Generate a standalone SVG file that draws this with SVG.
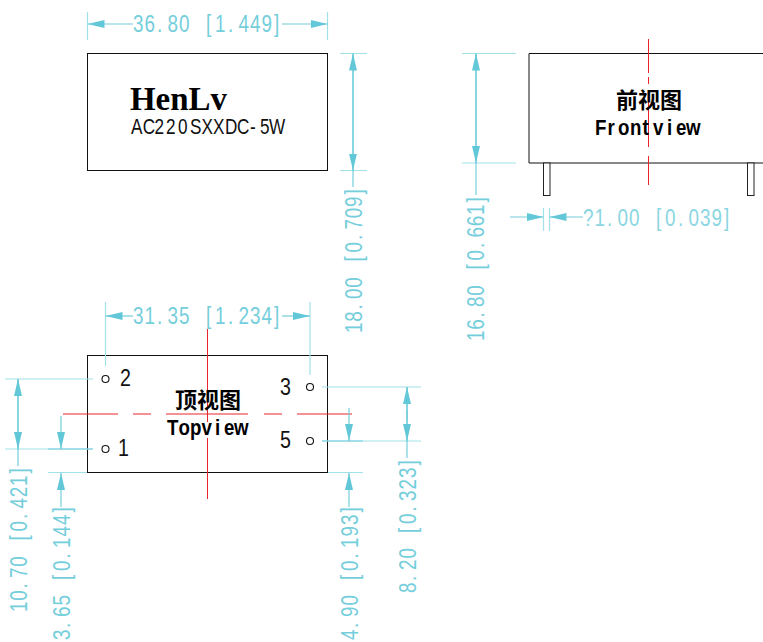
<svg xmlns="http://www.w3.org/2000/svg" width="763" height="642" viewBox="0 0 763 642">
<style>
.body{fill:#fff;stroke:#111;stroke-width:1}
.ext{stroke:#a3e1e9;stroke-width:1.2;fill:none}
.dim{stroke:#74cedb;stroke-width:1.2;fill:none}
.arr{marker-end:url(#ah)}
.red{stroke:#e8242c;stroke-width:1;fill:none}
.pin{fill:#fff;stroke:#222;stroke-width:1}
.hole{fill:#fff;stroke:#111;stroke-width:1.1}
.d{font-family:"Liberation Sans",sans-serif;font-size:23px;fill:#74cedb}
.n{font-family:"Liberation Sans",sans-serif;font-size:24px;fill:#111}
.cn{font-family:"Noto Sans CJK SC",sans-serif;font-size:22px;font-weight:700;fill:#000;text-anchor:middle}
.en{font-family:"Liberation Sans",sans-serif;font-size:22px;font-weight:700;fill:#000}
</style>
<defs>
<marker id="ah" markerUnits="userSpaceOnUse" markerWidth="18" markerHeight="8" refX="17" refY="4" orient="auto"><path d="M0 0L17 4L0 8Z" fill="#62c8d8"/></marker>
</defs>
<g id="top-view">
<rect class="body" x="87.5" y="53.5" width="240" height="117"/>
<text x="130" y="110" font-family="Liberation Serif,serif" font-weight="700" font-size="33" fill="#000" textLength="97" lengthAdjust="spacingAndGlyphs">HenLv</text>
<text transform="translate(131 134) scale(.78 1)" x="0 15 30 44.9 60.3 75.6 90.4 105.1 120.5 135.9 152.5 165.4 177" font-family="Liberation Sans,sans-serif" font-size="22" fill="#111">AC220SXXDC-5W</text>
</g>
<g id="bottom-view">
<rect class="body" x="87.5" y="355.5" width="240" height="117"/>
<path class="red" d="M207.5 329V422M207.5 438V499M63 414H118M133 414H151M166 414H248M264 414H282M297 414H352"/>
<circle class="hole" cx="105.5" cy="379" r="3.5"/><circle class="hole" cx="105.5" cy="449" r="3.5"/><circle class="hole" cx="310" cy="387" r="3.5"/><circle class="hole" cx="310" cy="441" r="3.5"/>
<text class="n" transform="translate(120 385.5) scale(.82 1)">2</text><text class="n" transform="translate(118 456) scale(.82 1)">1</text><text class="n" transform="translate(280 395) scale(.82 1)">3</text><text class="n" transform="translate(280 448) scale(.82 1)">5</text>
<text class="cn" x="208" y="408">顶视图</text>
<text class="en" transform="translate(167 435) scale(.85 1)" x="0 13.5 27.1 40.6 56.5 67.1 78.8">Topview</text>
</g>
<g id="front-view">
<path class="body" d="M763 53.5H529V163H763"/>
<rect class="pin" x="543.5" y="163" width="6.5" height="32.5"/><rect class="pin" x="747.5" y="163" width="6.5" height="32.5"/>
<path class="red" d="M648.5 39V73M648.5 77V84M648.5 91V147M648.5 156V185"/>
<text class="cn" x="649" y="108">前视图</text>
<text class="en" transform="translate(595 135) scale(.85 1)" x="0 14.7 27.1 41.2 55.9 68.2 84.7 95.3 107">Frontview</text>
</g>
<g id="connectors">
<path class="ext" d="M87.5 12V40M327.5 12V40M340 53.5H367M340 170.5H367M105.5 302V366M310 302V375M5 379H93M5 449H93M48 472.5H87M328 472.5H363M322 387H421M322 441H421M462 53.5H516M462 163H516M543.5 208V231M549.5 208V231"/>
<path class="dim" d="M48 449H93M322 441H363"/>
<path class="dim arr" d="M133 24H87.5"/><path class="dim arr" d="M282 24H327.5"/>
<path class="dim" d="M353 53.5V187"/><path class="dim arr" d="M353 112V53.5"/><path class="dim arr" d="M353 112V170.5"/>
<path class="dim arr" d="M133 316H105.5"/><path class="dim arr" d="M282 316H310"/>
<path class="dim" d="M18 379V466"/><path class="dim arr" d="M18 414V379"/><path class="dim arr" d="M18 414V449"/>
<path class="dim arr" d="M61 416V449"/><path class="dim arr" d="M61 507V473"/>
<path class="dim arr" d="M349 408V441"/><path class="dim arr" d="M349 507V473"/>
<path class="dim" d="M407 387V458"/><path class="dim arr" d="M407 420V387"/><path class="dim arr" d="M407 410V441"/>
<path class="dim" d="M476 53.5V195"/><path class="dim arr" d="M476 110V53.5"/><path class="dim arr" d="M476 110V163"/>
<path class="dim arr" d="M510 217H543.5"/><path class="dim arr" d="M583 217H549.5"/>
</g>
<g id="dimension-labels">
<text class="d" transform="translate(133 32) scale(.82 1)" x="0 14 29.3 42.1 56.1 70.7 89 100 115.9 128.7 142.7 156.7 172">36.80 [1.449]</text>
<text class="d" transform="translate(133 324) scale(.82 1)" x="0 14 29.3 42.1 56.1 70.7 89 100 115.9 128.7 142.7 156.7 172">31.35 [1.234]</text>
<text class="d" transform="translate(583 226) scale(.82 1)" x="0 14 29.3 42.1 56.1 70.7 89 100 115.9 128.7 142.7 156.7 172" style="fill:#8ad6e2">?1.00 [0.039]</text>
<text class="d" transform="translate(362 333) rotate(-90) scale(.82 1)" x="0 13.8 28.7 41.5 55.1 69.5 87.2 98.2 113.4 126.2 139.9 153.7 168.9">18.00 [0.709]</text>
<text class="d" transform="translate(484 341) rotate(-90) scale(.82 1)" x="0 13.8 28.7 41.5 55.1 69.5 87.2 98.2 113.4 126.2 139.9 153.7 168.9">16.80 [0.661]</text>
<text class="d" transform="translate(27 612) rotate(-90) scale(.82 1)" x="0 13.8 28.7 41.5 55.1 69.5 87.2 98.2 113.4 126.2 139.9 153.7 168.9">10.70 [0.421]</text>
<text class="d" transform="translate(70 640) rotate(-90) scale(.82 1)" x="0 14.6 28 42.1 56.1 73.2 84.1 99.4 112.2 126.2 140.2 155.5">3.65 [0.144]</text>
<text class="d" transform="translate(358 640) rotate(-90) scale(.82 1)" x="0 14.6 28 42.1 56.1 73.2 84.1 99.4 112.2 126.2 140.2 155.5">4.90 [0.193]</text>
<text class="d" transform="translate(416 593) rotate(-90) scale(.82 1)" x="0 14.6 28 42.1 56.1 73.2 84.1 99.4 112.2 126.2 140.2 155.5">8.20 [0.323]</text>
</g>
</svg>
